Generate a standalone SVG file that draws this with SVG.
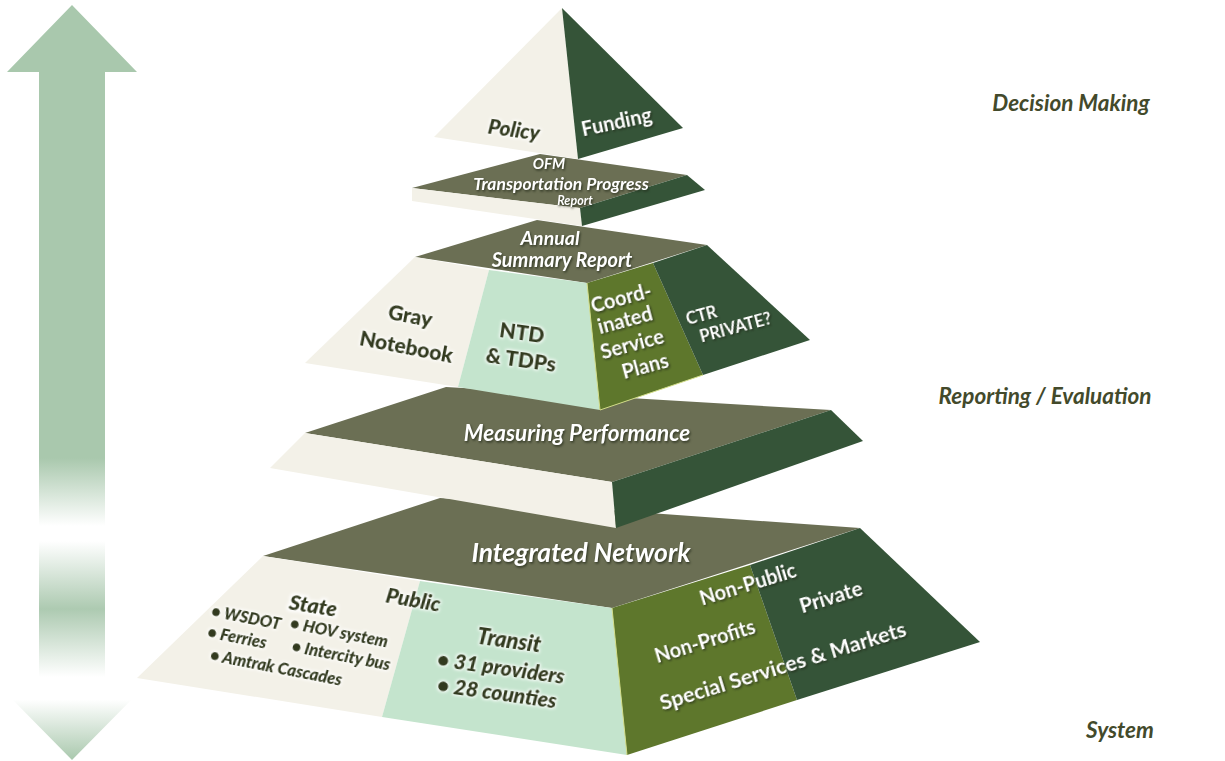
<svg xmlns="http://www.w3.org/2000/svg" width="1225" height="761" viewBox="0 0 1225 761">
  <defs>
    <!-- vertical double-headed scale arrow, fading toward the base -->
    <linearGradient id="arrowFade" gradientUnits="userSpaceOnUse" x1="0" y1="5" x2="0" y2="760">
      <stop offset="0" stop-color="#A9C8AD"/>
      <stop offset="0.60" stop-color="#A9C8AD"/>
      <stop offset="0.69" stop-color="#FFFFFF"/>
      <stop offset="0.71" stop-color="#FFFFFF"/>
      <stop offset="0.80" stop-color="#ADCAB1"/>
      <stop offset="0.89" stop-color="#FFFFFF"/>
      <stop offset="0.92" stop-color="#FFFFFF"/>
      <stop offset="1" stop-color="#A9C8AD"/>
    </linearGradient>
    <filter id="shadowDark" x="-20%" y="-40%" width="140%" height="180%" color-interpolation-filters="sRGB">
      <feDropShadow dx="1" dy="1.5" stdDeviation="1" flood-color="#1E2414" flood-opacity="0.75"/>
    </filter>
    <filter id="glowLight" x="-20%" y="-40%" width="140%" height="180%" color-interpolation-filters="sRGB">
      <feMorphology in="SourceAlpha" operator="dilate" radius="1.5" result="fat"/>
      <feGaussianBlur in="fat" stdDeviation="1.8" result="soft"/>
      <feFlood flood-color="#FFFFFF" flood-opacity="0.95"/>
      <feComposite in2="soft" operator="in" result="halo"/>
      <feMerge><feMergeNode in="halo"/><feMergeNode in="SourceGraphic"/></feMerge>
    </filter>
    <style>
      .cream { fill: #F3F1E8; }
      .olive { fill: #6B6F54; }
      .forest { fill: #355438; }
      .mint { fill: #C4E4CD; }
      .moss { fill: #5E772C; }
      text { font-family: Lato, "Open Sans", "Liberation Sans", sans-serif; font-weight: bold; }
      .lt { fill: #FFFFFF; filter: url(#shadowDark); text-anchor: middle; }
      .dk { fill: #323A1F; font-weight: 900; filter: url(#glowLight); text-anchor: middle; }
      .it { font-style: italic; }
      .side { fill: #434A2B; font-style: italic; font-size: 22.5px; text-anchor: middle; }
      .seam { fill: none; stroke: #D3DE8A; stroke-width: 1; }
    </style>
  </defs>

  <rect width="1225" height="761" fill="#FFFFFF"/>

  <g id="axis-arrow">
    <polygon points="72,5 137,72 105,72 105,694 137,694 72,760 7,694 39,694 39,72 7,72" fill="url(#arrowFade)"/>
  </g>

  <!-- base tier -->
  <g id="tier-integrated-network">
    <polygon class="olive" points="440,498 860,528 612,608 263,556"/>
    <polygon class="cream" points="263,556 420,581 382,717 137,678"/>
    <polygon class="mint" points="420,581 612,608 627,755 382,717"/>
    <polygon class="moss" points="612,608 750,565 797,700 627,755"/>
    <polygon class="forest" points="750,565 860,528 980,642 797,700"/>
    <line class="seam" x1="612" y1="608" x2="627" y2="755"/>
    <text class="lt it" x="581" y="562" font-size="26.5">Integrated Network</text>
    <text class="dk it" x="412" y="607" font-size="21" transform="rotate(10 412 607)">Public</text>
    <text class="dk it" x="312" y="613" font-size="21.5" transform="rotate(9 312 613)">State</text>
    <g font-size="16.5" class="it">
      <text class="dk" x="245" y="623" transform="rotate(11 245 623)">• WSDOT</text>
      <text class="dk" x="338" y="638" transform="rotate(11 338 638)">• HOV system</text>
      <text class="dk" x="236" y="643" transform="rotate(11 236 643)">• Ferries</text>
      <text class="dk" x="340" y="661" transform="rotate(11 340 661)">• Intercity bus</text>
      <text class="dk" x="275" y="673" transform="rotate(11 275 673)">• Amtrak Cascades</text>
    </g>
    <text class="dk it" x="508" y="648" font-size="22" transform="rotate(8 508 648)">Transit</text>
    <text class="dk it" x="500" y="675" font-size="21" transform="rotate(8 500 675)">• 31 providers</text>
    <text class="dk it" x="496" y="700" font-size="21" transform="rotate(8 496 700)">• 28 counties</text>
    <text class="lt" x="750" y="591" font-size="20" transform="rotate(-17 750 591)">Non-Public</text>
    <text class="lt" x="833" y="604" font-size="20.5" transform="rotate(-17 833 604)">Private</text>
    <text class="lt" x="707" y="648" font-size="20" transform="rotate(-17 707 648)">Non-Profits</text>
    <text class="lt" x="785" y="673" font-size="21.5" transform="rotate(-17 785 673)">Special Services &amp; Markets</text>
  </g>

  <!-- performance tier -->
  <g id="tier-measuring-performance">
    <polygon class="olive" points="446,387 831,410 612,482 305,433"/>
    <polygon class="cream" points="305,433 612,482 616,528 270,468"/>
    <polygon class="forest" points="612,482 831,410 863,441 616,528"/>
    <text class="lt it" x="577" y="441" font-size="22.5">Measuring Performance</text>
  </g>

  <!-- reporting tier -->
  <g id="tier-annual-summary">
    <polygon class="olive" points="537,220 707,245 587,283 415,257"/>
    <polygon class="cream" points="415,257 489,270 458,387 305,363"/>
    <polygon class="mint" points="489,270 587,283 600,410 458,387"/>
    <polygon class="moss" points="587,283 653,263 703,375 600,410"/>
    <polygon class="forest" points="653,263 707,245 810,340 703,375"/>
    <line class="seam" x1="587" y1="283" x2="600" y2="410"/>
    <line class="seam" x1="600" y1="410" x2="703" y2="375"/>
    <text class="lt it" x="550" y="245" font-size="19.5">Annual</text>
    <text class="lt it" x="562" y="267" font-size="20">Summary Report</text>
    <text class="dk" x="409" y="323" font-size="21" transform="rotate(11 409 323)">Gray</text>
    <text class="dk" x="405" y="354" font-size="21" transform="rotate(11 405 354)">Notebook</text>
    <text class="dk" x="521" y="340" font-size="21" transform="rotate(8 521 340)">NTD</text>
    <text class="dk" x="520" y="367" font-size="21" transform="rotate(8 520 367)">&amp; TDPs</text>
    <text class="lt" x="623" y="305" font-size="20" transform="rotate(-15 623 305)">Coord-</text>
    <text class="lt" x="627" y="327" font-size="20" transform="rotate(-15 627 327)">inated</text>
    <text class="lt" x="634" y="351" font-size="20" transform="rotate(-15 634 351)">Service</text>
    <text class="lt" x="647" y="373" font-size="20" transform="rotate(-15 647 373)">Plans</text>
    <text class="lt" x="703" y="321" font-size="16.5" transform="rotate(-15 703 321)">CTR</text>
    <text class="lt" x="737" y="333" font-size="16.5" transform="rotate(-15 737 333)">PRIVATE?</text>
  </g>

  <!-- progress report band -->
  <g id="tier-ofm-report">
    <polygon class="olive" points="540,154 687,175 580,208 412,188"/>
    <polygon class="cream" points="412,188 580,208 582,226 412,201"/>
    <polygon class="forest" points="580,208 687,175 705,190 582,226"/>
    <text class="lt it" x="549" y="169" font-size="15">OFM</text>
    <text class="lt it" x="561" y="190" font-size="17.5">Transportation Progress</text>
    <text class="lt it" x="575" y="205" font-size="12.5">Report</text>
  </g>

  <!-- apex -->
  <g id="tier-decision-apex">
    <polygon class="cream" points="562,8 434,137 578,159"/>
    <polygon class="forest" points="562,8 578,159 683,128"/>
    <text class="dk it" x="513" y="137" font-size="20.5" transform="rotate(8 513 137)">Policy</text>
    <text class="lt" x="618" y="129" font-size="20" transform="rotate(-12 618 129)">Funding</text>
  </g>

  <g id="level-labels">
    <text class="side" x="1071" y="111">Decision Making</text>
    <text class="side" x="1045" y="404">Reporting / Evaluation</text>
    <text class="side" x="1120" y="738">System</text>
  </g>
</svg>
